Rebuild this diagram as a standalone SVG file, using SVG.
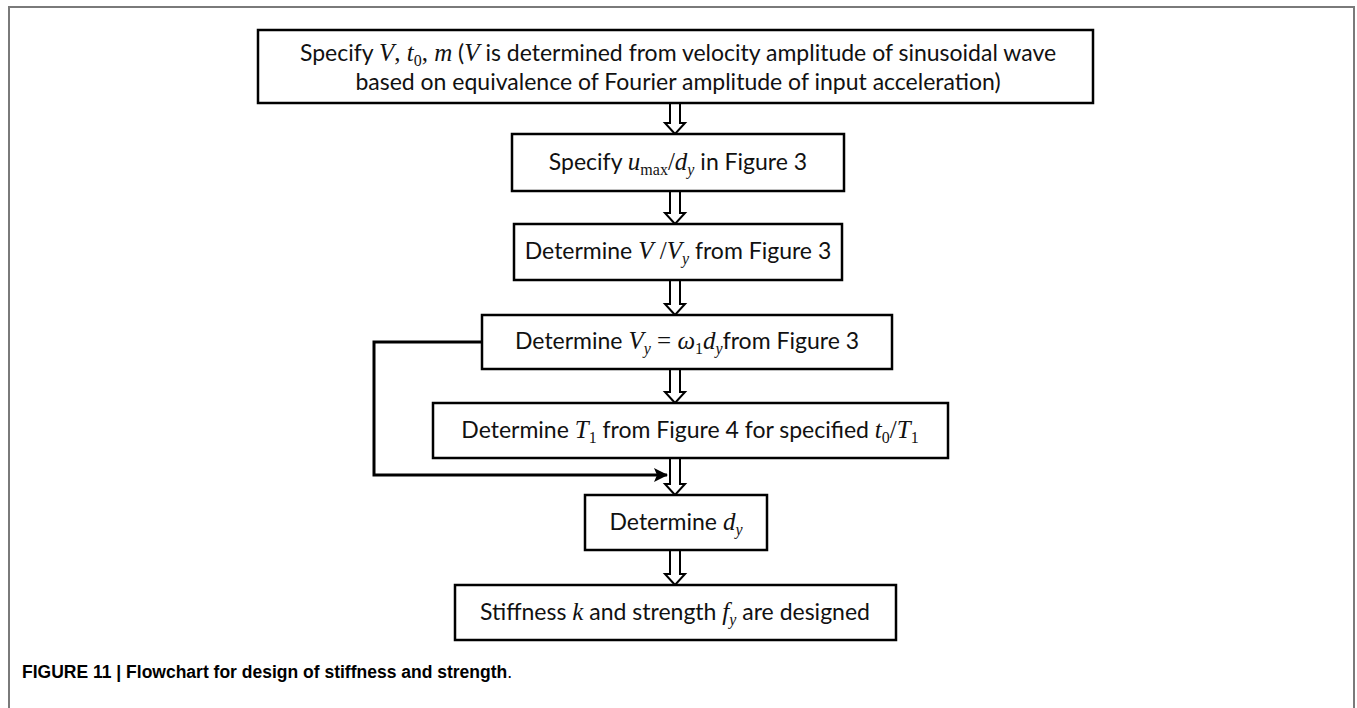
<svg xmlns="http://www.w3.org/2000/svg" width="1357" height="708" viewBox="0 0 1357 708">
<defs>
<style>
.frame{fill:none;stroke:#7a7a7a;stroke-width:2}
.box{fill:#fff;stroke:#000;stroke-width:2.5}
.t{font-family:Lato,"Open Sans","Liberation Sans",sans-serif;font-size:23px;fill:#111;text-anchor:middle}
.m{font-family:"Liberation Serif","DejaVu Serif",serif;font-style:italic;font-size:25px}
.r{font-family:"Liberation Serif","DejaVu Serif",serif;font-style:normal;font-size:25px}
.sub{font-size:16px}
.blk{fill:#fff;stroke:#000;stroke-width:2}
.loop{fill:none;stroke:#000;stroke-width:3}
.cap{font-family:"Liberation Sans",Arial,sans-serif;font-size:17.5px;fill:#000}
</style>
<marker id="ah" markerWidth="16" markerHeight="14" refX="13" refY="7" orient="auto" markerUnits="userSpaceOnUse">
<path d="M0,0 L14,7 L0,14 L3,7 Z" fill="#000"/>
</marker>
</defs>
<rect width="1357" height="708" fill="#fff"/>
<path class="frame" d="M9,708 V7 H1354 V708"/>

<g id="connectors">
<polygon class="blk" points="670,103 680,103 680,123 685,123 675,134 665,123 670,123"/>
<polygon class="blk" points="670,191 680,191 680,213 685,213 675,224 665,213 670,213"/>
<polygon class="blk" points="670,280 680,280 680,304 685,304 675,315 665,304 670,304"/>
<polygon class="blk" points="670,369 680,369 680,392 685,392 675,403 665,392 670,392"/>
<polygon class="blk" points="670,458 680,458 680,484 685,484 675,495 665,484 670,484"/>
<polygon class="blk" points="670,550 680,550 680,574 685,574 675,585 665,574 670,574"/>
<polyline class="loop" points="482,342 374,342 374,475 667,475" marker-end="url(#ah)"/>
</g>

<g id="n1">
<rect class="box" x="258" y="30" width="835" height="73"/>
<text class="t" x="678" y="61">Specify <tspan class="m">V</tspan><tspan class="r">, </tspan><tspan class="m">t</tspan><tspan class="r sub" dy="5">0</tspan><tspan class="r" dy="-5">, </tspan><tspan class="m">m</tspan> (<tspan class="m">V</tspan> is determined from velocity amplitude of sinusoidal wave</text>
<text class="t" x="678" y="90">based on equivalence of Fourier amplitude of input acceleration)</text>
</g>

<g id="n2">
<rect class="box" x="512" y="134" width="332" height="57"/>
<text class="t" x="678" y="170">Specify <tspan class="m">u</tspan><tspan class="r sub" dy="5">max</tspan><tspan class="r" dy="-5">/</tspan><tspan class="m">d</tspan><tspan class="m sub" dy="5">y</tspan><tspan dy="-5"> in Figure 3</tspan></text>
</g>

<g id="n3">
<rect class="box" x="514" y="224" width="328" height="56"/>
<text class="t" x="678" y="259">Determine <tspan class="m">V</tspan><tspan class="r"> /</tspan><tspan class="m">V</tspan><tspan class="m sub" dy="5">y</tspan><tspan dy="-5"> from Figure 3</tspan></text>
</g>

<g id="n4">
<rect class="box" x="482" y="315" width="410" height="54"/>
<text class="t" x="687" y="349">Determine <tspan class="m">V</tspan><tspan class="m sub" dy="5">y</tspan><tspan class="r" dy="-5"> = </tspan><tspan class="m">ω</tspan><tspan class="r sub" dy="5">1</tspan><tspan class="m" dy="-5">d</tspan><tspan class="m sub" dy="5">y</tspan><tspan dy="-5">from Figure 3</tspan></text>
</g>

<g id="n5">
<rect class="box" x="433" y="403" width="515" height="55"/>
<text class="t" x="690" y="438">Determine <tspan class="m">T</tspan><tspan class="r sub" dy="5">1</tspan><tspan dy="-5"> from Figure 4 for specified </tspan><tspan class="m">t</tspan><tspan class="r sub" dy="5">0</tspan><tspan class="r" dy="-5">/</tspan><tspan class="m">T</tspan><tspan class="r sub" dy="5">1</tspan></text>
</g>

<g id="n6">
<rect class="box" x="585" y="495" width="182" height="55"/>
<text class="t" x="676" y="530">Determine <tspan class="m">d</tspan><tspan class="m sub" dy="5">y</tspan></text>
</g>

<g id="n7">
<rect class="box" x="455" y="585" width="441" height="55"/>
<text class="t" x="675" y="620">Stiffness <tspan class="m">k</tspan> and strength <tspan class="m">f</tspan><tspan class="m sub" dy="5">y</tspan><tspan dy="-5"> are designed</tspan></text>
</g>

<text class="cap" x="22" y="678"><tspan font-weight="bold">FIGURE 11 | Flowchart for design of stiffness and strength</tspan>.</text>
</svg>
